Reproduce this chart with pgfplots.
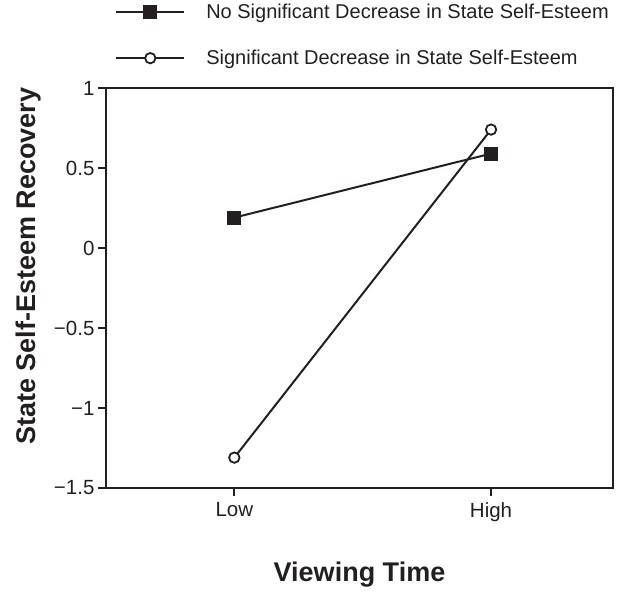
\documentclass[border=0pt]{standalone}
\usepackage{fontspec}
\setmainfont{Liberation Sans}
\usepackage{pgfplots}
\pgfplotsset{compat=1.18}
\definecolor{ink}{HTML}{231F20}
\begin{document}
\begin{tikzpicture}
\begin{axis}[
 scale only axis, width=507pt, height=400pt,
 xmin=0.5, xmax=2.475, ymin=-1.5, ymax=1,
 xtick={1,2}, xticklabels={Low,High},
 ytick={-1.5,-1,-0.5,0,0.5,1},
 yticklabels={−1.5,−1,−0.5,0,0.5,1},
 tick align=outside, xtick pos=bottom, ytick pos=left,
 major tick length=8pt,
 axis line style={line width=2.5pt, color=ink},
 tick style={line width=1.8pt, color=ink},
 tick label style={font=\fontsize{20.5}{24}\selectfont, color=ink},
 xticklabel style={yshift=-3pt},
 xlabel={Viewing Time}, ylabel={State Self-Esteem Recovery},
 label style={font=\fontsize{27}{31}\selectfont\bfseries, color=ink},
 xlabel style={at={(axis description cs:0.5,-0.2175)}, anchor=center},
 ylabel style={at={(axis description cs:-0.152,0.555)}, anchor=center},
 clip=false,
 legend style={at={(axis description cs:0.018,1.215)}, anchor=north west, draw=none, fill=none,
   font=\fontsize{20}{24}\selectfont, text=ink, row sep=26pt, column sep=10pt, inner sep=0pt,
   nodes={inner xsep=11pt, inner ysep=2pt}},
 legend cell align=left,
 legend image code/.code={\draw[mark repeat=2,mark phase=2] plot coordinates {(0pt,0pt) (34pt,0pt) (68pt,0pt)};},
]
\addplot[ink, line width=2pt, mark=square*, mark size=6.5pt, mark options={fill=ink, line width=1pt}] coordinates {(1,0.19) (2,0.59)};
\addlegendentry{No Significant Decrease in State Self-Esteem}
\addplot[ink, line width=2pt, mark=*, mark size=5.2pt, mark options={fill=white, line width=1.8pt}] coordinates {(1,-1.31) (2,0.74)};
\addlegendentry{Significant Decrease in State Self-Esteem}
\coordinate (tl) at (rel axis cs:-0.209,1.22);
\coordinate (br) at (rel axis cs:1.0276,-0.255);
\end{axis}
\path (tl) rectangle (br);
\end{tikzpicture}
\end{document}
